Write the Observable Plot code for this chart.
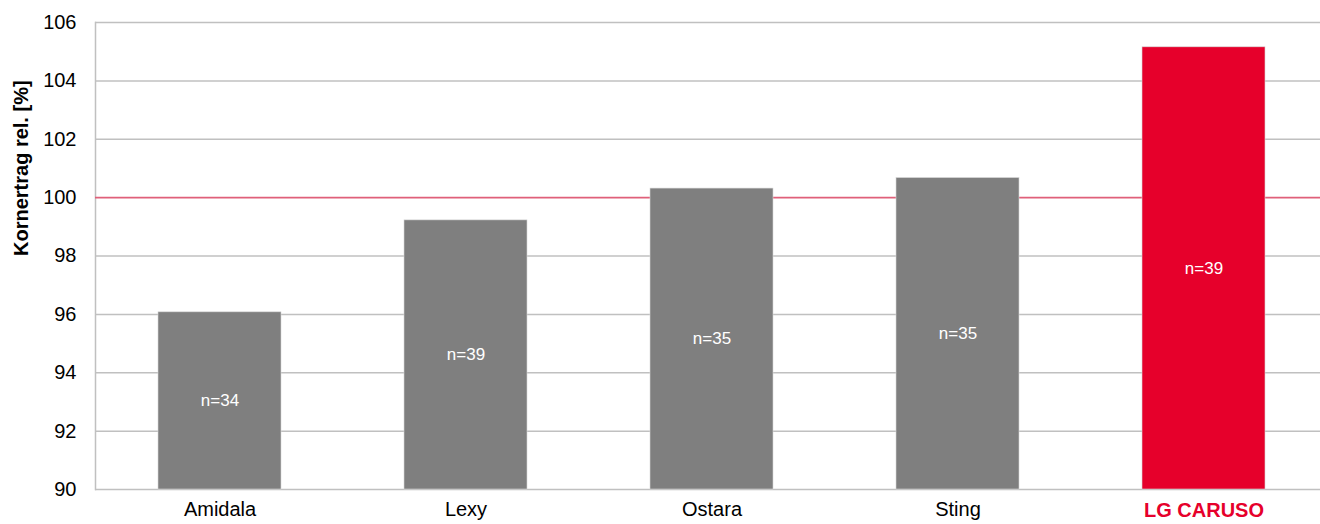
<!DOCTYPE html>
<html>
<head>
<meta charset="utf-8">
<script src="https://cdn.jsdelivr.net/npm/d3@7"></script>
<script src="https://cdn.jsdelivr.net/npm/@observablehq/plot@0.6"></script>
<style>
  html, body { margin: 0; padding: 0; background: #fff; overflow: hidden; }
  svg { font-family: "Liberation Sans", Arial, sans-serif; }
</style>
</head>
<body>
<div id="chart"></div>
<script>
const varieties = ["Amidala", "Lexy", "Ostara", "Sting", "LG CARUSO"];
const yieldRel = [96.07, 99.22, 100.31, 100.67, 105.15];
const nLabels = ["n=34", "n=39", "n=35", "n=35", "n=39"];
const highlight = "LG CARUSO";
const yTicks = [90, 92, 94, 96, 98, 100, 102, 104, 106];
const refValue = 100;
const yLabel = "Kornertrag rel. [%]";

const data = varieties.map((name, i) => ({ name, value: yieldRel[i], n: nLabels[i] }));
const gray = "#7f7f7f";
const red = "#e6002b";

const chart = Plot.plot({
  width: 1320,
  height: 524,
  marginTop: 22,
  marginBottom: 35,
  marginLeft: 95,
  marginRight: 0,
  style: { fontFamily: "'Liberation Sans', Arial, sans-serif", background: "#fff" },
  x: { domain: varieties, range: [95, 1328], paddingInner: 0.5, paddingOuter: 0.25, align: 0.5, axis: null },
  y: { domain: [90, 106], axis: null },
  marks: [
    Plot.ruleY(yTicks.filter(t => t !== refValue), { stroke: "#c0c0c0", strokeWidth: 1.5 }),
    Plot.frame({ anchor: "left", stroke: "#c0c0c0", strokeWidth: 1.5 }),
    Plot.ruleY([refValue], { stroke: "#e0607a", strokeWidth: 1.8 }),
    Plot.barY(data, {
      x: "name", y1: 90, y2: "value",
      fill: d => d.name === highlight ? red : gray,
      stroke: "#d6d6d6", strokeWidth: 0.6
    }),
    Plot.text(data, {
      x: "name", y: d => (d.value + 90) / 2, text: "n",
      fill: "white", fontSize: 17
    }),
    Plot.text(yTicks, {
      y: d => d, text: d => String(d), frameAnchor: "left",
      textAnchor: "end", dx: -19, fontSize: 20, fill: "#000"
    }),
    Plot.text(data.filter(d => d.name !== highlight), {
      x: "name", text: "name", frameAnchor: "bottom", dy: 26,
      fontSize: 20, fill: "#000"
    }),
    Plot.text(data.filter(d => d.name === highlight), {
      x: "name", text: "name", frameAnchor: "bottom", dy: 27,
      fontSize: 20, fill: red, fontWeight: "bold"
    }),
    Plot.text([yLabel], {
      frameAnchor: "left", dx: -74, rotate: -90, text: d => d,
      fontSize: 20, fontWeight: "bold", fill: "#000"
    })
  ]
});
document.getElementById("chart").appendChild(chart);
</script>
</body>
</html>
